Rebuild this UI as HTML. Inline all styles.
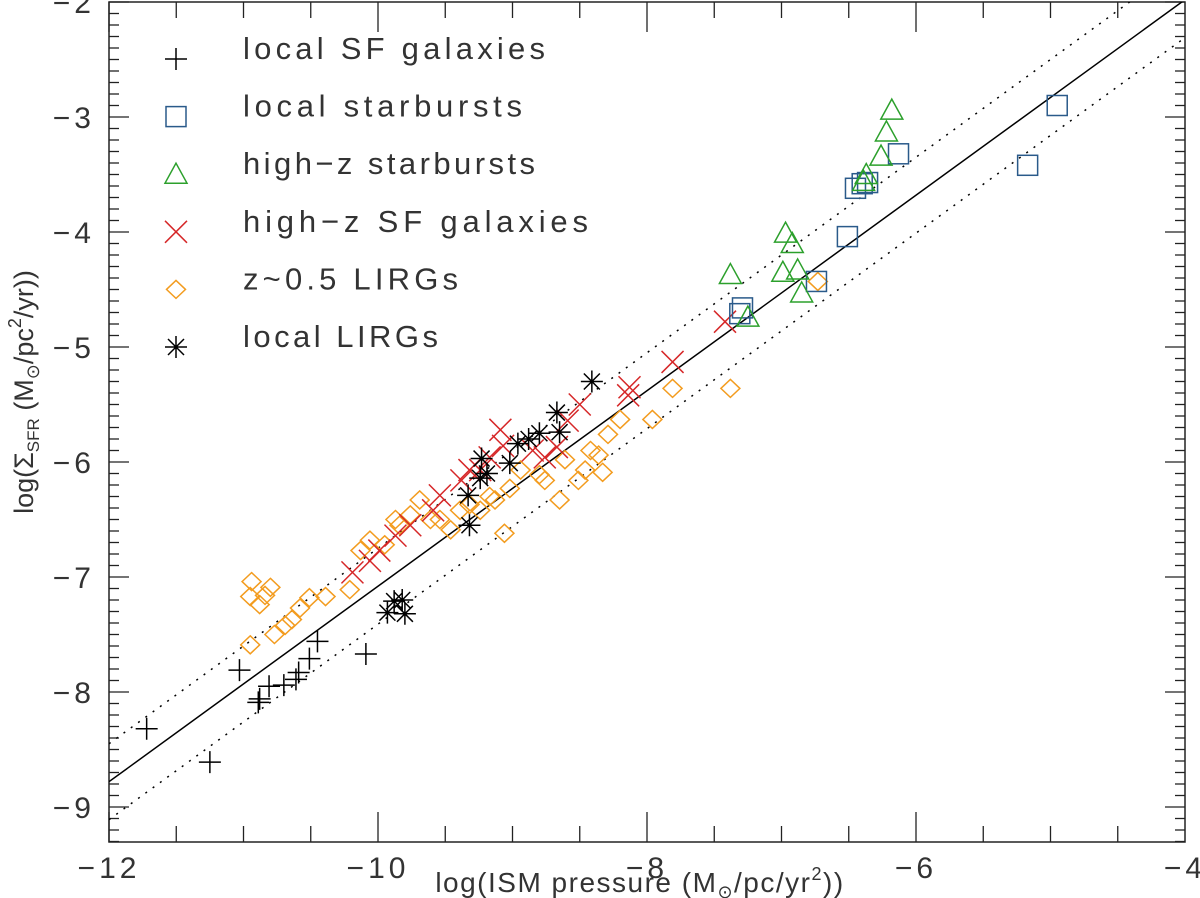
<!DOCTYPE html>
<html><head><meta charset="utf-8"><style>
html,body{margin:0;padding:0;background:#fff;}
svg{display:block;font-family:"Liberation Sans",sans-serif;}
</style></head><body>
<svg id="chart" width="1200" height="898" viewBox="0 0 1200 898" xmlns="http://www.w3.org/2000/svg"></svg>
<script>
const xTicks=[-12,-10,-8,-6,-4];
const yTicks=[-9,-8,-7,-6,-5,-4,-3,-2];
const lineX=[-12,-4];
const lineY=[-8.78,-1.98];
const bandOffset=0.33;
const sfX=[-11.72,-11.25,-11.03,-10.89,-10.88,-10.81,-10.7,-10.61,-10.59,-10.51,-10.45,-10.09];
const sfY=[-8.32,-8.61,-7.81,-8.09,-8.06,-7.95,-7.94,-7.89,-7.83,-7.71,-7.56,-7.67];
const sbX=[-4.95,-5.17,-6.13,-6.36,-6.45,-6.4,-6.51,-6.74,-7.29,-7.31];
const sbY=[-2.9,-3.42,-3.32,-3.57,-3.62,-3.58,-4.04,-4.43,-4.66,-4.71];
const hzsbX=[-6.18,-6.22,-6.26,-6.37,-6.39,-6.97,-6.92,-6.99,-6.88,-6.85,-7.38,-7.25];
const hzsbY=[-2.94,-3.13,-3.34,-3.5,-3.56,-4.01,-4.1,-4.35,-4.33,-4.53,-4.37,-4.74];
const hzsfX=[-7.42,-7.81,-8.13,-8.14,-8.5,-8.59,-8.67,-8.76,-8.85,-9.09,-9.07,-9.17,-9.24,-9.32,-9.38,-9.54,-9.59,-9.76,-9.87,-9.99,-10.19,-10.06];
const hzsfY=[-4.78,-5.13,-5.35,-5.42,-5.5,-5.64,-5.87,-5.96,-5.9,-5.72,-5.86,-5.96,-6.07,-6.07,-6.16,-6.29,-6.42,-6.55,-6.64,-6.77,-6.96,-6.86];
const lirgX=[-6.73,-7.38,-7.81,-7.96,-8.2,-8.29,-8.33,-8.36,-8.42,-8.46,-8.51,-8.61,-8.65,-8.76,-8.8,-8.94,-9.02,-9.06,-9.13,-9.17,-9.24,-9.32,-9.39,-9.46,-9.54,-9.61,-9.69,-9.76,-9.84,-9.87,-9.95,-10.06,-10.13,-10.21,-10.39,-10.51,-10.58,-10.64,-10.69,-10.77,-10.88,-10.84,-10.8,-10.94,-10.95,-10.95];
const lirgY=[-4.43,-5.36,-5.36,-5.63,-5.63,-5.76,-6.09,-5.94,-5.9,-6.07,-6.16,-5.98,-6.33,-6.16,-6.11,-6.07,-6.23,-6.62,-6.33,-6.3,-6.42,-6.37,-6.42,-6.59,-6.5,-6.5,-6.33,-6.46,-6.55,-6.5,-6.72,-6.68,-6.77,-7.11,-7.17,-7.18,-7.27,-7.37,-7.42,-7.5,-7.24,-7.16,-7.09,-7.04,-7.17,-7.59];
const llX=[-8.41,-8.67,-8.65,-8.8,-8.88,-8.96,-9.02,-9.19,-9.23,-9.24,-9.33,-9.32,-9.82,-9.93,-9.88,-9.8];
const llY=[-5.3,-5.57,-5.74,-5.75,-5.8,-5.84,-6.01,-6.1,-5.97,-6.14,-6.29,-6.55,-7.2,-7.31,-7.21,-7.32];

const NS="http://www.w3.org/2000/svg";
const svg=document.getElementById('chart');
const L=109,R=1185,T=2,B=842;
function sx(v){return L+(v+12)*134.5;}
function sy(v){return 347+(-5-v)*115;}
function mk(tag,attrs,parent){const e=document.createElementNS(NS,tag);for(const k in attrs)e.setAttribute(k,attrs[k]);(parent||svg).appendChild(e);return e;}

const axes=mk('g',{});


const frame=mk('rect',{x:L,y:T,width:R-L,height:B-T,fill:'none',stroke:'#222','stroke-width':1.5},axes);


for(let v=-12;v<=-4.001;v+=0.5){const big=Math.abs(v-Math.round(v/2)*2)<1e-6;const len=big?30:16;
 mk('line',{x1:sx(v),x2:sx(v),y1:B,y2:B-len,stroke:'#222','stroke-width':1.3},axes);
 mk('line',{x1:sx(v),x2:sx(v),y1:T,y2:T+len,stroke:'#222','stroke-width':1.3},axes);}
for(let i=0;i<=73;i++){const v=-9.3+i*0.1;const big=Math.abs(v-Math.round(v))<1e-6;const len=big?20:10;
 mk('line',{x1:L,x2:L+len,y1:sy(v),y2:sy(v),stroke:'#222','stroke-width':1.3},axes);
 mk('line',{x1:R,x2:R-len,y1:sy(v),y2:sy(v),stroke:'#222','stroke-width':1.3},axes);}
xTicks.forEach(v=>{const t=mk('text',{x:sx(v),y:878,'text-anchor':'middle','font-size':30,fill:'#333','letter-spacing':4},axes);t.textContent='\u2212'+Math.abs(v);
 
 });
yTicks.forEach(v=>{const t=mk('text',{x:95,y:sy(v)+11,'text-anchor':'end','font-size':30,fill:'#333','letter-spacing':4},axes);t.textContent='\u2212'+Math.abs(v);
 
 });
const xt=mk('text',{x:640,y:892,'text-anchor':'middle','font-size':28,fill:'#333','letter-spacing':1.5},svg);
xt.innerHTML='log(ISM pressure (M<tspan font-size="18" dy="6">\u2299</tspan><tspan dy="-6">/pc/yr</tspan><tspan font-size="18" dy="-12">2</tspan><tspan dy="12">))</tspan>';


const yt=mk('text',{x:0,y:0,transform:'translate(33,392) rotate(-90)','text-anchor':'middle','font-size':27,fill:'#333'},svg);
yt.innerHTML='log(\u03A3<tspan font-size="17" dy="6">SFR</tspan><tspan dy="-6"> (M</tspan><tspan font-size="18" dy="6">\u2299</tspan><tspan dy="-6">/pc</tspan><tspan font-size="18" dy="-12">2</tspan><tspan dy="12">/yr))</tspan>';



const clip=mk('clipPath',{id:'pc'});mk('rect',{x:L,y:T,width:R-L,height:B-T},clip);
const lines=mk('g',{'clip-path':'url(#pc)'});


const fit=mk('line',{x1:sx(lineX[0]),y1:sy(lineY[0]),x2:sx(lineX[1]),y2:sy(lineY[1]),stroke:'#000','stroke-width':1.5},lines);


[bandOffset,-bandOffset].forEach(o=>{const d=mk('line',{x1:sx(lineX[0]),y1:sy(lineY[0]+o),x2:sx(lineX[1]),y2:sy(lineY[1]+o),stroke:'#000','stroke-width':1.5,'stroke-dasharray':'2 7'},lines);
 
 });

function marker(type,cx,cy,g){
 const c={plus:'#000',square:'#2a5a8a',tri:'#2ca02c',x:'#d62728',dia:'#f39c1f',star:'#000'}[type];
 const a={fill:'none',stroke:c,'stroke-width':1.5};
 if(type==='plus'){mk('path',Object.assign({d:`M${cx-11} ${cy}H${cx+11}M${cx} ${cy-11}V${cy+11}`},a),g);}
 else if(type==='square'){mk('rect',Object.assign({x:cx-10,y:cy-10,width:20,height:20},a),g);}
 else if(type==='tri'){mk('path',Object.assign({d:`M${cx} ${cy-11}L${cx+11} ${cy+9}L${cx-11} ${cy+9}Z`},a),g);}
 else if(type==='x'){mk('path',Object.assign({d:`M${cx-11} ${cy-11}L${cx+11} ${cy+11}M${cx-11} ${cy+11}L${cx+11} ${cy-11}`},a),g);}
 else if(type==='dia'){mk('path',Object.assign({d:`M${cx} ${cy-9}L${cx+9.5} ${cy}L${cx} ${cy+9}L${cx-9.5} ${cy}Z`},a),g);}
 else if(type==='star'){mk('path',Object.assign({d:`M${cx-11} ${cy}H${cx+11}M${cx} ${cy-11}V${cy+11}M${cx-8} ${cy-8}L${cx+8} ${cy+8}M${cx-8} ${cy+8}L${cx+8} ${cy-8}`},a),g);}
}
const series=[
 ['local-sf-galaxies','plus',sfX,sfY,'local SF galaxies',302],
 ['local-starbursts','square',sbX,sbY,'local starbursts',279],
 ['high-z-starbursts','tri',hzsbX,hzsbY,'high\u2212z starbursts',292],
 ['high-z-sf-galaxies','x',hzsfX,hzsfY,'high\u2212z SF galaxies',345],
 ['z05-lirgs','dia',lirgX,lirgY,'z~0.5 LIRGs',215],
 ['local-lirgs','star',llX,llY,'local LIRGs',195]];
const order=[4,3,5,0,1,2];
order.forEach(i=>{const s=series[i];const g=mk('g',{});
 
 
 s[2].forEach((v,j)=>marker(s[1],sx(v),sy(s[3][j]),g));});
const leg=mk('g',{});


series.forEach((s,i)=>{const y=59+i*57.6;const e=mk('g',{},leg);
 
 
 marker(s[1],176,y,e);
 const t=mk('text',{x:243,y:y,'font-size':31,fill:'#333',textLength:s[5],lengthAdjust:'spacing'},e);t.textContent=s[4];});
</script>
</body></html>
